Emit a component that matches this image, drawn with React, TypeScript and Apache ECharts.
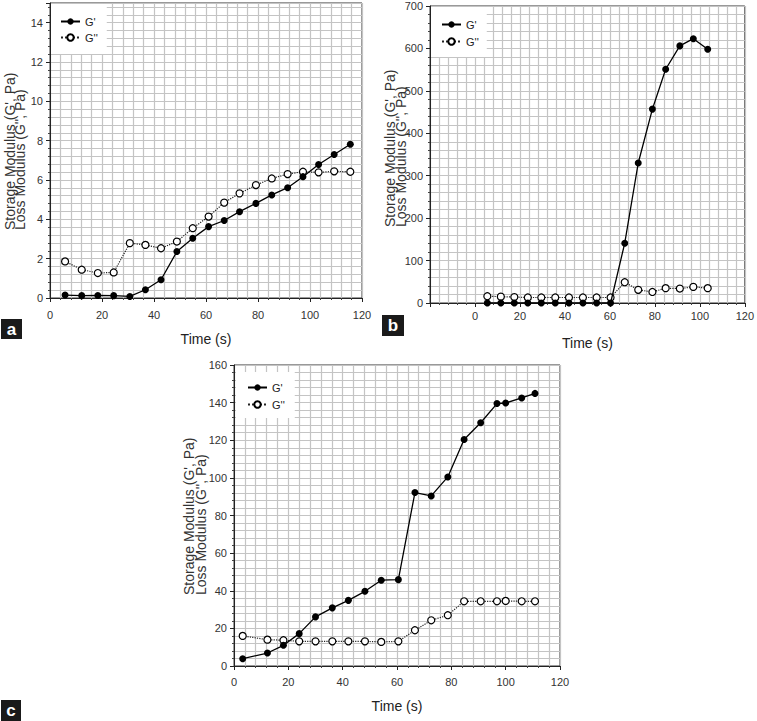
import React, { useEffect, useRef } from "react";
import * as echarts from "echarts";

// Panel a
const timeA = [5.8, 12.2, 18.4, 24.5, 30.7, 36.7, 42.7, 48.8, 54.9, 61.0, 67.0, 72.9, 79.2, 85.3, 91.4, 97.3, 103.3, 109.3, 115.5];
const storageA = [0.15, 0.12, 0.13, 0.12, 0.08, 0.42, 0.93, 2.36, 3.04, 3.63, 3.94, 4.39, 4.81, 5.24, 5.61, 6.17, 6.79, 7.3, 7.82];
const lossA = [1.86, 1.44, 1.27, 1.3, 2.79, 2.7, 2.53, 2.87, 3.55, 4.14, 4.85, 5.32, 5.74, 6.08, 6.3, 6.42, 6.39, 6.44, 6.42];

// Panel b
const timeB = [5.5, 11.5, 17.5, 23.5, 29.5, 35.7, 41.8, 48.0, 54.1, 60.3, 66.6, 72.6, 78.9, 84.8, 91.1, 97.1, 103.5];
const storageB = [0, 0, 0, 0, 0, 0, 0, 0, 0, 0, 141, 330, 457, 551, 606, 623, 598];
const lossB = [16, 15, 14, 13, 13, 13, 13, 13, 13, 13, 49, 31, 26, 35, 34, 38, 35];

// Panel c
const timeC = [3.2, 12.3, 18.2, 24.0, 30.0, 36.2, 42.1, 48.2, 54.2, 60.5, 66.6, 72.6, 78.7, 84.7, 90.8, 96.8, 100.0, 105.9, 110.8];
const storageC = [3.9, 6.9, 11.0, 17.2, 26.1, 30.9, 34.9, 39.7, 45.6, 45.9, 92.2, 90.4, 100.5, 120.4, 129.3, 139.5, 139.8, 142.5, 144.9];
const lossC = [16.0, 14.0, 13.7, 13.1, 13.1, 13.1, 13.1, 13.1, 12.8, 13.1, 19.0, 24.3, 27.0, 34.4, 34.4, 34.4, 34.6, 34.4, 34.4];

const xTitle = "Time (s)";
const yTitle1 = "Storage Modulus (G', Pa)";
const yTitle2 = "Loss Modulus (G'', Pa)";
const nameG1 = "G'";
const nameG2 = "G''";
const panelLabels = ["a", "b", "c"];

const FONT = "'Liberation Sans Narrow', 'Liberation Sans', Arial, sans-serif";
const GRIDC = "#c4c4c4";

const zip = (xs: number[], ys: number[]) => xs.map((x, i) => [x, ys[i]]);

function xAxisCfg(gridIndex: number, min: number, labelMargin: number, nameGap: number) {
  return {
    type: "value",
    gridIndex,
    min,
    max: 120,
    interval: 20,
    name: xTitle,
    nameLocation: "middle",
    nameGap,
    nameTextStyle: { fontFamily: FONT, fontSize: 14, color: "#222" },
    axisLine: { show: true, onZero: false, lineStyle: { color: "#222", width: 1 } },
    axisTick: { show: true, length: 4, lineStyle: { color: "#222" } },
    minorTick: { show: true, splitNumber: 5, length: 2, lineStyle: { color: "#444" } },
    axisLabel: {
      fontFamily: FONT,
      fontSize: 11,
      color: "#333",
      margin: labelMargin,
      formatter: (v: number) => (v < 0 ? "" : String(v)),
    },
    splitLine: { show: true, lineStyle: { color: GRIDC, width: 1.2 } },
    minorSplitLine: { show: true, lineStyle: { color: GRIDC, width: 1.2 } },
  };
}

function yAxisCfg(gridIndex: number, max: number, interval: number, showMax: boolean) {
  return {
    type: "value",
    gridIndex,
    min: 0,
    max,
    interval,
    axisLine: { show: true, onZero: false, lineStyle: { color: "#222", width: 1 } },
    axisTick: { show: true, length: 4, lineStyle: { color: "#222" } },
    minorTick: { show: true, splitNumber: 5, length: 2, lineStyle: { color: "#444" } },
    axisLabel: { fontFamily: FONT, fontSize: 11, color: "#333", margin: 7, showMaxLabel: showMax },
    splitLine: { show: true, lineStyle: { color: GRIDC, width: 1.2 } },
    minorSplitLine: { show: true, lineStyle: { color: GRIDC, width: 1.2 } },
  };
}

function seriesPair(idx: number, xs: number[], g1: number[], g2: number[]) {
  return [
    {
      name: nameG1,
      type: "line",
      xAxisIndex: idx,
      yAxisIndex: idx,
      data: zip(xs, g1),
      symbol: "circle",
      symbolSize: 7,
      itemStyle: { color: "#000" },
      lineStyle: { color: "#000", width: 1.3 },
      z: 4,
    },
    {
      name: nameG2,
      type: "line",
      xAxisIndex: idx,
      yAxisIndex: idx,
      data: zip(xs, g2),
      symbol: "circle",
      symbolSize: 7,
      itemStyle: { color: "#fff", borderColor: "#000", borderWidth: 1.2 },
      lineStyle: { color: "#222", width: 1.2, type: "dotted" },
      z: 3,
    },
  ];
}

function legendCfg(left: number, top: number, padding: number[], gap: number) {
  return {
    left,
    top,
    orient: "vertical",
    data: [nameG1, nameG2],
    itemWidth: 19,
    itemHeight: 8,
    itemGap: gap,
    padding,
    backgroundColor: "#fff",
    textStyle: { fontFamily: FONT, fontSize: 11, color: "#222" },
    selectedMode: false,
  };
}

function yTitles(x1: number, x2: number, y: number) {
  const base = { fontFamily: FONT, fontSize: 14, fill: "#333", textAlign: "left", textVerticalAlign: "middle" };
  return [
    { type: "text", x: x1, y, rotation: Math.PI / 2, style: { ...base, text: yTitle1 } },
    { type: "text", x: x2, y, rotation: Math.PI / 2, style: { ...base, text: yTitle2 } },
  ];
}

function panelTag(x: number, y: number, w: number, h: number, label: string) {
  return [
    { type: "rect", shape: { x, y, width: w, height: h }, style: { fill: "#1a1a1a" } },
    {
      type: "text",
      x: x + w / 2,
      y: y + h / 2,
      style: { text: label, fontFamily: "'Liberation Sans', Arial, sans-serif", fontSize: 17, fontWeight: "bold", fill: "#fff", textAlign: "center", textVerticalAlign: "middle" },
    },
  ];
}

export default function App() {
  const ref = useRef<HTMLDivElement>(null);
  useEffect(() => {
    if (!ref.current) return;
    const chart = echarts.init(ref.current, undefined, { renderer: "svg" });
    const gridBase = { show: true, backgroundColor: "#fff", borderColor: "#333", borderWidth: 1, containLabel: false };
    chart.setOption({
      animation: false,
      backgroundColor: "#fff",
      grid: [
        { ...gridBase, left: 50, top: 3, width: 312, height: 295 },
        { ...gridBase, left: 430, top: 6, width: 318, height: 297 },
        { ...gridBase, left: 234, top: 365, width: 326, height: 301 },
      ],
      xAxis: [xAxisCfg(0, 0, 11, 34), xAxisCfg(1, -20, 7, 33), xAxisCfg(2, 0, 10, 33)],
      yAxis: [yAxisCfg(0, 15, 2, false), yAxisCfg(1, 700, 100, true), yAxisCfg(2, 160, 20, true)],
      legend: [
        legendCfg(51, 4, [12, 9, 11, 9], 5),
        legendCfg(431, 7, [12, 8, 10, 10], 6),
        legendCfg(236, 372, [10, 10, 8, 11], 6),
      ],
      series: [
        ...seriesPair(0, timeA, storageA, lossA),
        ...seriesPair(1, timeB, storageB, lossB),
        ...seriesPair(2, timeC, storageC, lossC),
      ],
      graphic: [
        ...yTitles(10, 20, 230),
        ...yTitles(390, 401, 227),
        ...yTitles(189, 201, 595),
        ...panelTag(1, 319, 21, 20, panelLabels[0]),
        ...panelTag(382, 315, 22, 21, panelLabels[1]),
        ...panelTag(1, 700, 20, 21, panelLabels[2]),
      ],
    });
    return () => chart.dispose();
  }, []);
  return <div ref={ref} style={{ position: "absolute", left: 0, top: 0, width: 757, height: 721 }} />;
}
